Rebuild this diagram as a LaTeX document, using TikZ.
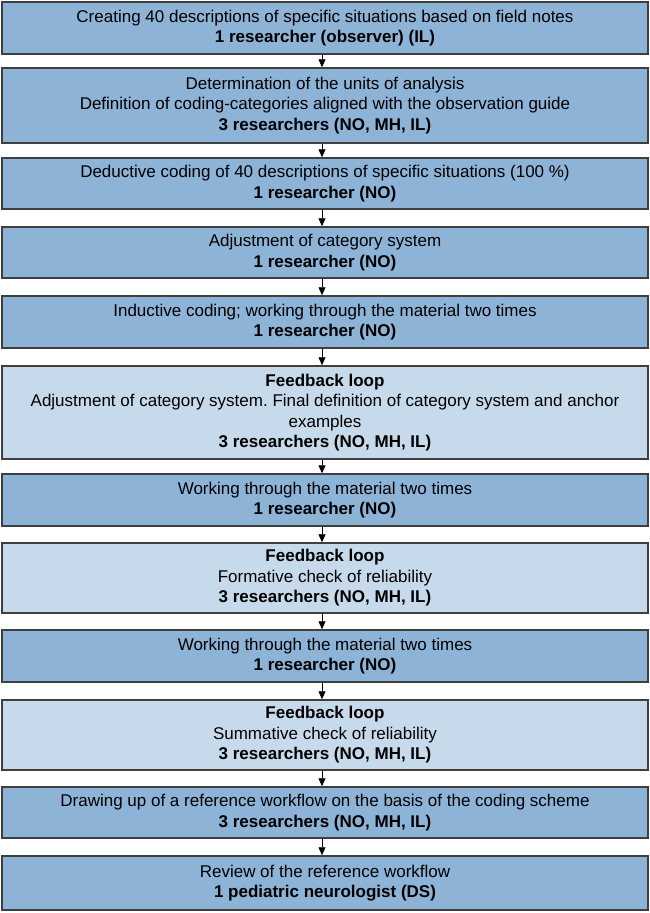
\documentclass[tikz,border=0pt]{standalone}
\usepackage{fontspec}
\setmainfont{Liberation Sans}
\frenchspacing
\definecolor{stepfill}{HTML}{8DB3D7}
\definecolor{loopfill}{HTML}{C6DAEB}
\definecolor{edgegray}{HTML}{3F3F3F}
\usepackage{tikz}
\usetikzlibrary{arrows.meta, positioning}
\tikzset{
  stepbox/.style={
    draw=edgegray, fill=#1, line width=1.5pt,
    minimum width=646pt, inner sep=0pt,
    font=\fontsize{17}{20.5}\selectfont,
    text=black, align=center
  },
  stepbox/.default=stepfill,
  arr/.style={-{Triangle[length=8pt,width=7pt]}, line width=0.8pt, color=black},
}

\begin{document}
\begin{tikzpicture}[x=1pt, y=-1pt]
    \useasboundingbox (0,0) rectangle (650,913);

    \node[stepbox, minimum height=52pt] (notes) at (325,28)
      {Creating 40 descriptions of specific situations based on field notes\\
       \textbf{1 researcher (observer) (IL)}};

    \node[stepbox, minimum height=75pt] (units) at (325,105.5)
      {Determination of the units of analysis\\
       Definition of coding-categories aligned with the observation guide\\
       \textbf{3 researchers (NO, MH, IL)}};

    \node[stepbox, minimum height=51pt] (deduct) at (325,183.5)
      {Deductive coding of 40 descriptions of specific situations (100 \%)\\
       \textbf{1 researcher (NO)}};

    \node[stepbox, minimum height=51pt] (adjust) at (325,252.5)
      {Adjustment of category system\\
       \textbf{1 researcher (NO)}};

    \node[stepbox, minimum height=52pt] (induct) at (325,322)
      {Inductive coding; working through the material two times\\
       \textbf{1 researcher (NO)}};

    \node[stepbox=loopfill, minimum height=93pt] (loopa) at (325,412.5)
      {\textbf{Feedback loop}\\
       Adjustment of category system. Final definition of category system and anchor\\
       examples\\
       \textbf{3 researchers (NO, MH, IL)}};

    \node[stepbox, minimum height=52pt] (worka) at (325,500)
      {Working through the material two times\\
       \textbf{1 researcher (NO)}};

    \node[stepbox=loopfill, minimum height=70pt] (loopb) at (325,578)
      {\textbf{Feedback loop}\\
       Formative check of reliability\\
       \textbf{3 researchers (NO, MH, IL)}};

    \node[stepbox, minimum height=52pt] (workb) at (325,656)
      {Working through the material two times\\
       \textbf{1 researcher (NO)}};

    \node[stepbox=loopfill, minimum height=70pt] (loopc) at (325,735)
      {\textbf{Feedback loop}\\
       Summative check of reliability\\
       \textbf{3 researchers (NO, MH, IL)}};

    \node[stepbox, minimum height=51pt] (flow) at (325,812.5)
      {Drawing up of a reference workflow on the basis of the coding scheme\\
       \textbf{3 researchers (NO, MH, IL)}};

    \node[stepbox, minimum height=54pt] (review) at (325,883)
      {Review of the reference workflow\\
       \textbf{1 pediatric neurologist (DS)}};

    \foreach \a/\b in {notes/units, units/deduct, deduct/adjust, adjust/induct,
                       induct/loopa, loopa/worka, worka/loopb, loopb/workb,
                       workb/loopc, loopc/flow, flow/review}
      \draw[arr] ([xshift=-3pt]\a.south) -- ([xshift=-3pt]\b.north);
\end{tikzpicture}
\end{document}
